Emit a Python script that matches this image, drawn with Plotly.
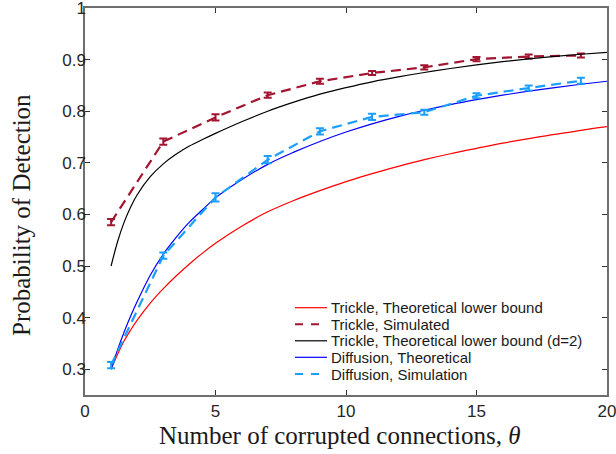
import plotly.graph_objects as go

# Simulated points
x_sim = [1, 3, 5, 7, 9, 11, 13, 15, 17, 19]
trickle_sim = [0.585, 0.741, 0.788, 0.831, 0.858, 0.874, 0.885, 0.901, 0.906, 0.908]
trickle_err = [0.006, 0.006, 0.006, 0.005, 0.005, 0.004, 0.004, 0.004, 0.004, 0.004]
diff_sim = [0.308, 0.520, 0.633, 0.706, 0.761, 0.789, 0.798, 0.830, 0.845, 0.859]
diff_err = [0.006, 0.006, 0.008, 0.007, 0.006, 0.006, 0.005, 0.005, 0.005, 0.006]

# Theoretical curves
x_th = [1, 1.25, 1.5, 1.75, 2, 2.5, 3, 3.5, 4, 4.5, 5, 6, 7, 8, 9, 10, 11, 12, 13, 14, 15, 16, 17, 18, 19, 20]
trickle_lb = [0.300, 0.329, 0.355, 0.376, 0.395, 0.428, 0.456, 0.481, 0.504, 0.525, 0.544, 0.577, 0.605,
              0.627, 0.646, 0.6635, 0.679, 0.693, 0.706, 0.7176, 0.728, 0.738, 0.747, 0.755, 0.763, 0.770]
trickle_lb_d2 = [0.500, 0.5475, 0.585, 0.6145, 0.638, 0.673, 0.698, 0.717, 0.7325, 0.745, 0.757, 0.7795, 0.800,
                 0.8175, 0.833, 0.8457, 0.857, 0.8665, 0.875, 0.8827, 0.8897, 0.896, 0.9015, 0.9063, 0.9104, 0.914]
diff_th = [0.300, 0.338, 0.372, 0.403, 0.431, 0.482, 0.523, 0.556, 0.585, 0.609, 0.632, 0.667, 0.697,
           0.7206, 0.7413, 0.7596, 0.7755, 0.7895, 0.8018, 0.8127, 0.8223, 0.831, 0.8388, 0.8458, 0.8522, 0.858]

x_ticks = [0, 5, 10, 15, 20]
y_ticks = [0.3, 0.4, 0.5, 0.6, 0.7, 0.8, 0.9, 1.0]
y_ticklabels = ["0.3", "0.4", "0.5", "0.6", "0.7", "0.8", "0.9", "1"]

legend_names = ["Trickle, Theoretical lower bound", "Trickle, Simulated",
                "Trickle, Theoretical lower bound (d=2)", "Diffusion, Theoretical",
                "Diffusion, Simulation"]

RED = "#ff0000"
DARKRED = "#a2142f"
BLUE = "#0000ff"
LIGHTBLUE = "#1a9fff"
DASH = "10px,6px"

styles = [
    dict(color=RED, width=1.2, dash="solid"),
    dict(color=DARKRED, width=2.2, dash=DASH),
    dict(color="black", width=1.2, dash="solid"),
    dict(color=BLUE, width=1.2, dash="solid"),
    dict(color=LIGHTBLUE, width=2.2, dash=DASH),
]

fig = go.Figure()
fig.add_trace(go.Scatter(x=x_th, y=trickle_lb, mode="lines", line=dict(**styles[0], shape="spline"),
                         name=legend_names[0]))
fig.add_trace(go.Scatter(x=x_sim, y=trickle_sim, mode="lines", line=styles[1],
                         error_y=dict(type="data", array=trickle_err, color=DARKRED, thickness=2, width=4),
                         name=legend_names[1]))
fig.add_trace(go.Scatter(x=x_th, y=trickle_lb_d2, mode="lines", line=dict(**styles[2], shape="spline"),
                         name=legend_names[2]))
fig.add_trace(go.Scatter(x=x_th, y=diff_th, mode="lines", line=dict(**styles[3], shape="spline"),
                         name=legend_names[3]))
fig.add_trace(go.Scatter(x=x_sim, y=diff_sim, mode="lines", line=styles[4],
                         error_y=dict(type="data", array=diff_err, color=LIGHTBLUE, thickness=2, width=4),
                         name=legend_names[4]))

# plot area geometry (pixels)
L, R, T, B = 85, 9, 8, 59
W, H = 616 - L - R, 454 - T - B


def px_x(p):
    return (p - L) / W


def px_y(p):
    return (454 - B - p) / H


axis_common = dict(showline=True, linecolor="#6e6e6e", linewidth=1.5, mirror="ticks",
                   ticks="inside", ticklen=5, tickcolor="#333333", showgrid=False, zeroline=False,
                   automargin=False, ticklabeloverflow="allow",
                   tickfont=dict(family="Liberation Sans, Arial, sans-serif", size=17, color="#262626"))

# manual legend (compact spacing like the reference)
leg_rows = [307.7, 324.3, 340.8, 357.3, 374.0]
shapes = []
annotations = []
for name, st, yp in zip(legend_names, styles, leg_rows):
    shapes.append(dict(type="line", xref="paper", yref="paper",
                       x0=px_x(295), x1=px_x(327), y0=px_y(yp), y1=px_y(yp),
                       line=dict(color=st["color"], width=min(st["width"], 2),
                                 dash="8px,8px" if st["dash"] != "solid" else "solid")))
    annotations.append(dict(text=name, xref="paper", yref="paper", x=px_x(329), y=px_y(yp),
                            xanchor="left", yanchor="middle", showarrow=False,
                            font=dict(family="Liberation Sans, Arial, sans-serif", size=15, color="#1a1a1a")))

# axis titles
annotations.append(dict(text="Number of corrupted connections, <i>θ</i>", xref="paper", yref="paper",
                        x=px_x(339), y=px_y(436), xanchor="center", yanchor="middle", showarrow=False,
                        font=dict(family="Liberation Serif, Times New Roman, serif", size=25, color="#1a1a1a")))
annotations.append(dict(text="Probability of Detection", xref="paper", yref="paper",
                        x=px_x(21), y=px_y(215), xanchor="center", yanchor="middle", showarrow=False,
                        textangle=-90,
                        font=dict(family="Liberation Serif, Times New Roman, serif", size=25, color="#1a1a1a")))

fig.update_layout(
    width=616, height=454,
    margin=dict(l=L, r=R, t=T, b=B),
    paper_bgcolor="white", plot_bgcolor="white",
    xaxis=dict(range=[0, 20], tickvals=x_ticks, **axis_common),
    yaxis=dict(range=[0.25, 1.0], tickvals=y_ticks, ticktext=y_ticklabels, ticklabelstandoff=-6,
               **axis_common),
    showlegend=False,
    shapes=shapes,
    annotations=annotations,
)

fig.write_html("out.html")
